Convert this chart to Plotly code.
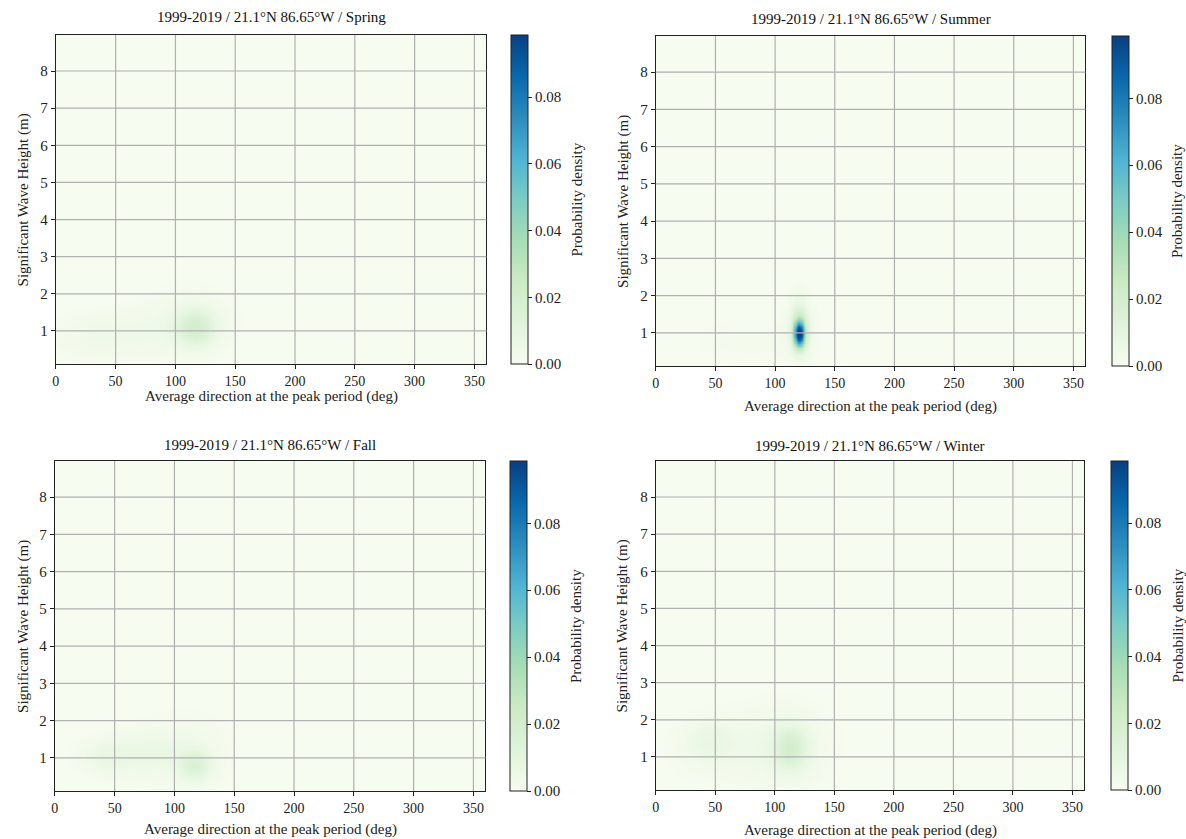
import numpy as np
import plotly.graph_objects as go

# ---------------- data ----------------
seasons = ["Spring", "Summer", "Fall", "Winter"]
title_prefix = "1999-2019 / 21.1°N 86.65°W / "

# Gaussian density components per season: centre direction (deg), centre Hs (m),
# spread direction (deg), spread Hs (m), peak density
spring_dir = [117, 60, 110, 25]
spring_hs = [1.10, 0.95, 1.30, 0.80]
spring_sdir = [11, 30, 25, 20]
spring_shs = [0.33, 0.40, 0.60, 0.40]
spring_amp = [0.017, 0.0035, 0.0035, 0.002]

summer_dir = [120, 120, 121, 80]
summer_hs = [0.98, 1.25, 1.10, 0.80]
summer_sdir = [3.2, 4.8, 9, 30]
summer_shs = [0.24, 0.45, 0.60, 0.40]
summer_amp = [0.094, 0.013, 0.004, 0.002]

fall_dir = [117, 45, 80, 110]
fall_hs = [0.80, 1.05, 1.15, 1.20]
fall_sdir = [9, 16, 22, 25]
fall_shs = [0.28, 0.33, 0.40, 0.65]
fall_amp = [0.013, 0.006, 0.0045, 0.003]

winter_dir = [113, 45, 75, 110]
winter_hs = [1.25, 1.40, 1.20, 1.30]
winter_sdir = [9, 14, 40, 22]
winter_shs = [0.38, 0.38, 0.75, 0.70]
winter_amp = [0.015, 0.006, 0.0025, 0.004]

components = {
    "Spring": (spring_dir, spring_hs, spring_sdir, spring_shs, spring_amp),
    "Summer": (summer_dir, summer_hs, summer_sdir, summer_shs, summer_amp),
    "Fall": (fall_dir, fall_hs, fall_sdir, fall_shs, fall_amp),
    "Winter": (winter_dir, winter_hs, winter_sdir, winter_shs, winter_amp),
}

x_ticks = [0, 50, 100, 150, 200, 250, 300, 350]
y_ticks = [1, 2, 3, 4, 5, 6, 7, 8]
cb_ticks = [0.00, 0.02, 0.04, 0.06, 0.08]
x_range = [0, 360]
y_range = [0.11, 8.97]
z_max = 0.0986

x_title = "Average direction at the peak period (deg)"
y_title = "Significant Wave Height (m)"
cb_title = "Probability density"

# ---------------- layout geometry (pixels) ----------------
W, H = 1186, 839
# plot boxes: left, right, top, bottom
boxes = {
    "Spring": (52, 484, 35, 364),
    "Summer": (654, 1085, 36, 366),
    "Fall": (51, 483, 461, 791),
    "Winter": (654, 1084, 461, 790),
}
cbar_left = {"Spring": 509, "Summer": 1112, "Fall": 508, "Winter": 1111}
title_y = {"Spring": 17, "Summer": 19, "Fall": 445, "Winter": 446}
xtitle_y = {"Spring": 397, "Summer": 406, "Fall": 829, "Winter": 830}
ytitle_x = {"Spring": 20, "Summer": 621, "Fall": 19, "Winter": 621}
cbtitle_x = {"Spring": 575, "Summer": 1177, "Fall": 574, "Winter": 1177}

def px(xp):
    return xp / W

def py(yp):
    return 1 - yp / H

FONT = "Liberation Serif, Times New Roman, serif"
INK = "#222222"

xs = np.arange(0, 360.5, 1.0)
ys = np.arange(0.10, 9.0, 0.04)
XX, YY = np.meshgrid(xs, ys)

fig = go.Figure()
annotations = []
shapes = []

for i, s in enumerate(seasons):
    d, h, sd, sh, a = components[s]
    Z = np.zeros_like(XX)
    for cx, cy, sx, sy, amp in zip(d, h, sd, sh, a):
        Z += amp * np.exp(-0.5 * (((XX - cx) / sx) ** 2 + ((YY - cy) / sy) ** 2))
    Z = np.round(Z, 5)

    n = i + 1
    xa = "x" if n == 1 else f"x{n}"
    ya = "y" if n == 1 else f"y{n}"
    l, r, t, b = boxes[s]

    fig.add_trace(go.Heatmap(
        x=xs, y=ys, z=Z, xaxis=xa, yaxis=ya,
        colorscale="GnBu", zmin=0, zmax=z_max, zsmooth="best",
        showscale=True,
        colorbar=dict(
            x=px(cbar_left[s]), xanchor="left", xref="paper",
            y=py(b), yanchor="bottom", yref="paper",
            len=(b - t) / H, lenmode="fraction",
            thickness=17, thicknessmode="pixels",
            xpad=0, ypad=0,
            outlinecolor=INK, outlinewidth=1,
            tickvals=cb_ticks, ticktext=[f"{v:.2f}" for v in cb_ticks],
            ticks="outside", ticklen=4, tickcolor=INK,
            tickfont=dict(family=FONT, size=15, color=INK),
        ),
        hoverinfo="skip",
    ))

    xkey = "xaxis" if n == 1 else f"xaxis{n}"
    ykey = "yaxis" if n == 1 else f"yaxis{n}"
    fig.update_layout(**{
        xkey: dict(
            domain=[px(l), px(r)], anchor=ya, range=x_range,
            tickvals=x_ticks, ticks="outside", ticklen=4, tickcolor=INK,
            showline=True, mirror=True, linecolor=INK, linewidth=1,
            showgrid=False, zeroline=False,
            tickfont=dict(family=FONT, size=14, color=INK),
        ),
        ykey: dict(
            domain=[py(b), py(t)], anchor=xa, range=y_range,
            tickvals=y_ticks, ticks="outside", ticklen=4, tickcolor=INK,
            showline=True, mirror=True, linecolor=INK, linewidth=1,
            showgrid=False, zeroline=False,
            tickfont=dict(family=FONT, size=15, color=INK),
        ),
    })

    # grid lines drawn above the density (as in the reference)
    for xv in x_ticks[1:]:
        shapes.append(dict(type="line", xref=xa, yref=f"{ya} domain",
                           x0=xv, x1=xv, y0=0, y1=1, layer="above",
                           line=dict(color="#b0b0b0", width=1.2)))
    for yv in y_ticks:
        shapes.append(dict(type="line", xref=f"{xa} domain", yref=ya,
                           x0=0, x1=1, y0=yv, y1=yv, layer="above",
                           line=dict(color="#b0b0b0", width=1.2)))

    cx_mid = (l + r) / 2
    annotations += [
        dict(text=title_prefix + s, x=px(cx_mid), y=py(title_y[s]), xref="paper", yref="paper",
             showarrow=False, xanchor="center", yanchor="middle",
             font=dict(family=FONT, size=15, color="#111111")),
        dict(text=x_title, x=px(cx_mid), y=py(xtitle_y[s]), xref="paper", yref="paper",
             showarrow=False, xanchor="center", yanchor="middle",
             font=dict(family=FONT, size=15, color=INK)),
        dict(text=y_title, x=px(ytitle_x[s]), y=py((t + b) / 2), xref="paper", yref="paper",
             showarrow=False, xanchor="center", yanchor="middle", textangle=-90,
             font=dict(family=FONT, size=15, color=INK)),
        dict(text=cb_title, x=px(cbtitle_x[s]), y=py((t + b) / 2), xref="paper", yref="paper",
             showarrow=False, xanchor="center", yanchor="middle", textangle=-90,
             font=dict(family=FONT, size=15, color=INK)),
    ]

fig.update_layout(
    width=W, height=H,
    margin=dict(l=0, r=0, t=0, b=0),
    paper_bgcolor="white", plot_bgcolor="white",
    annotations=annotations, shapes=shapes,
    showlegend=False,
)

fig.write_html(
    "out.html",
    config={"displayModeBar": False},
    post_script="document.body.style.margin='0';document.body.style.overflow='hidden';",
)
